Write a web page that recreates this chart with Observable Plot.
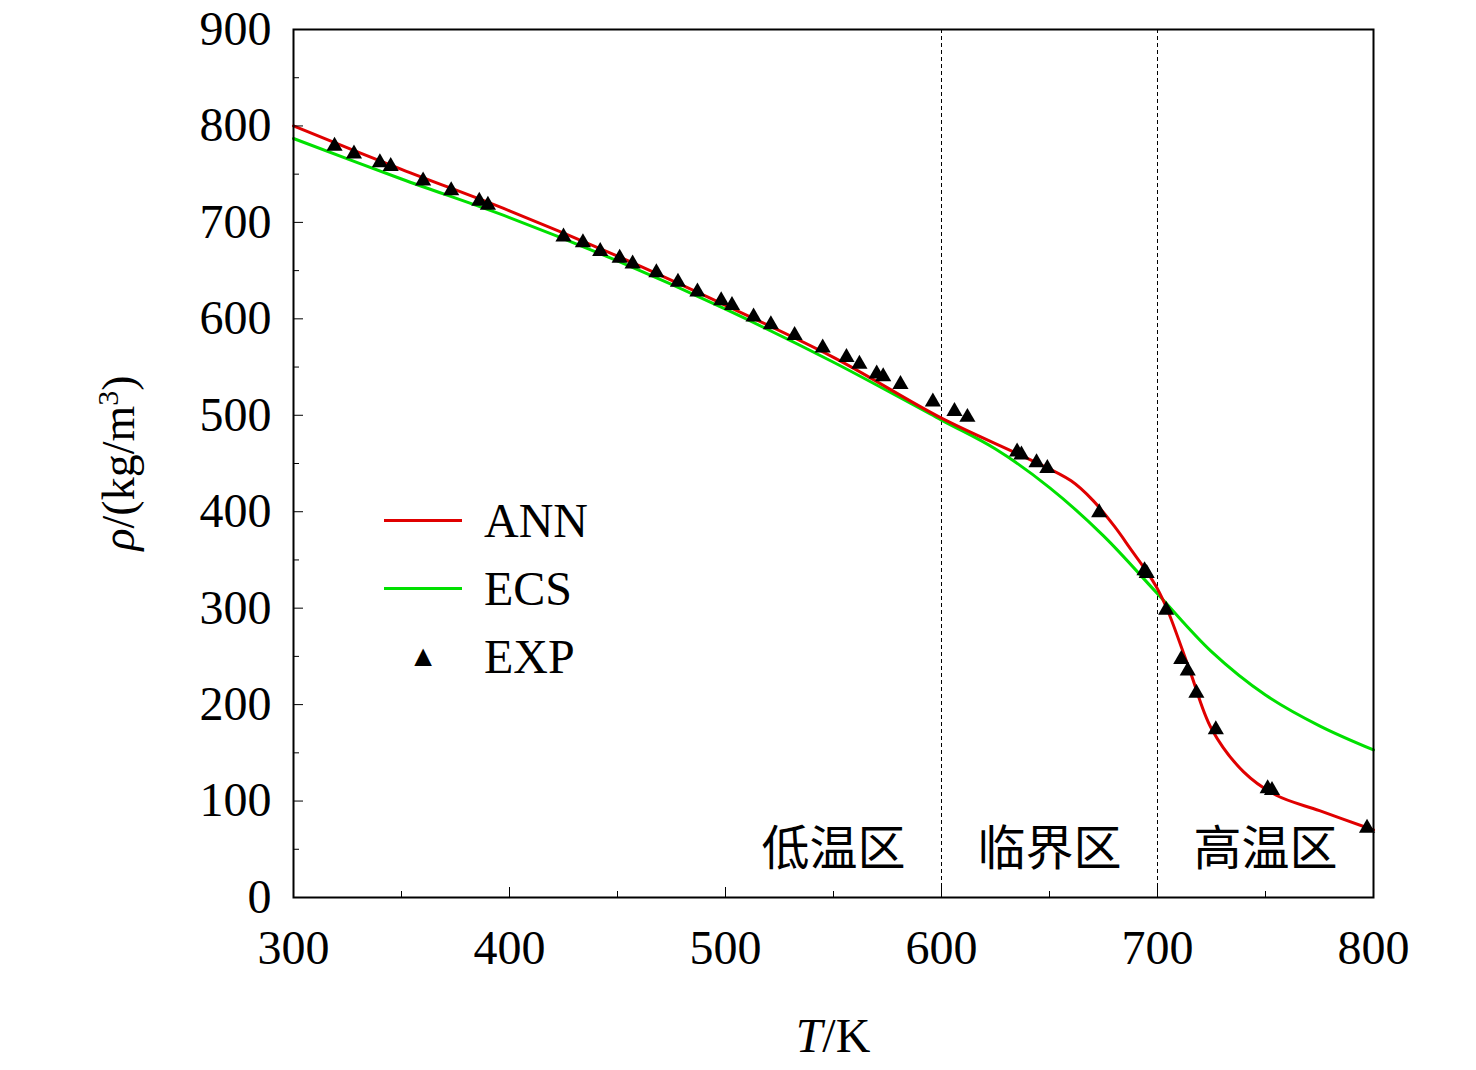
<!DOCTYPE html>
<html><head><meta charset="utf-8">
<script src="https://cdn.jsdelivr.net/npm/d3@7"></script>
<script src="https://cdn.jsdelivr.net/npm/@observablehq/plot@0.6"></script>
<style>body{margin:0;background:#fff;font-family:"Liberation Serif",serif}#c{position:relative;width:1476px;height:1070px}
.lg{position:absolute;left:384px;top:486px;font:48px "Liberation Serif";}
.lg div{display:flex;align-items:center;height:68px}
.lg span.s{display:inline-block;width:78px;height:3px;margin-right:22px}
</style></head><body><div id="c"></div>
<script>
const annT=[300,350,400,450,500,550,600,640,660,670,680,688,695,700,705,715,725,740,755,775,800];
const annR=[800,755,712,665,614,560,497,455,432,412,385,360,338,320,296,235,175,130,106,90,70];
const ecsT=[300,350,400,450,500,550,600,625,650,675,700,725,750,775,800];
const ecsR=[787,745,705,660,610,555,495,465,425,375,315,255,210,178,153];
const expT=[319,328,340,345,360,373,386,390,425,434,442,451,457,468,478,487,498,503,513,521,532,545,556,562,570,573,581,596,606,612,635,637,644,649,673,694,695,704,711,714,718,727,751,753,797];
const expR=[779,771,762,758,743,733,722,718,685,679,670,663,657,648,638,628,619,614,602,594,583,570,560,553,543,540,532,514,504,498,462,459,451,445,399,339,336,298,247,235,212,174,113,111,72];
const regions=["低温区","临界区","高温区"], regionX=[550,650,750];
const xTicks=[300,400,500,600,700,800], yTicks=d3.range(0,901,100);
const ann=annT.map((t,i)=>({t,r:annR[i]})), ecs=ecsT.map((t,i)=>({t,r:ecsR[i]})), exp=expT.map((t,i)=>({t,r:expR[i]}));
const p=Plot.plot({width:1476,height:1070,marginLeft:293,marginRight:103,marginTop:29,marginBottom:173,
 style:{fontFamily:"Liberation Serif",fontSize:"48px",color:"#000"},
 x:{domain:[300,800]},y:{domain:[0,900]},
 marks:[
  Plot.ruleX([600,700],{stroke:"#000",strokeDasharray:"4,3",strokeWidth:1}),
  Plot.line(ecs,{x:"t",y:"r",stroke:"#00e000",strokeWidth:3,curve:"catmull-rom"}),
  Plot.line(ann,{x:"t",y:"r",stroke:"#e00000",strokeWidth:3,curve:"catmull-rom"}),
  Plot.dot(exp,{x:"t",y:"r",symbol:"triangle",r:6,fill:"#000"}),
  Plot.text(regions,{x:(d,i)=>regionX[i],y:50,text:d=>d,fontSize:48,fontFamily:"Noto Sans CJK SC",fill:"#000"}),
  Plot.axisX({ticks:xTicks,tickSize:-10,tickPadding:42,label:null,fontSize:48}),
  Plot.axisX(d3.range(350,800,100),{tickSize:-6,text:null,label:null}),
  Plot.axisY({ticks:yTicks,tickSize:-10,tickPadding:32,label:null,fontSize:48}),
  Plot.axisY(d3.range(50,900,100),{tickSize:-6,text:null,label:null}),
  Plot.frame({stroke:"#000",strokeWidth:2})
 ]});
document.getElementById("c").appendChild(p);
const s=d3.select(p);
s.append("text").attr("x",833).attr("y",1052).attr("text-anchor","middle").style("font","48px 'Liberation Serif'")
 .html('<tspan font-style="italic">T</tspan>/K');
s.append("text").attr("transform","translate(134,463) rotate(-90)").attr("text-anchor","middle").style("font","46px 'Liberation Serif'")
 .html('<tspan font-style="italic">ρ</tspan>/(kg/m<tspan dy="-16" font-size="30">3</tspan><tspan dy="16">)</tspan>');
const lg=document.createElement("div");lg.className="lg";
lg.innerHTML='<div><span class="s" style="background:#e00000"></span>ANN</div><div><span class="s" style="background:#00e000"></span>ECS</div><div><span class="s" style="background:none;text-align:center;height:auto;font-size:30px;line-height:1">▲</span>EXP</div>';
document.getElementById("c").appendChild(lg);
</script></body></html>
